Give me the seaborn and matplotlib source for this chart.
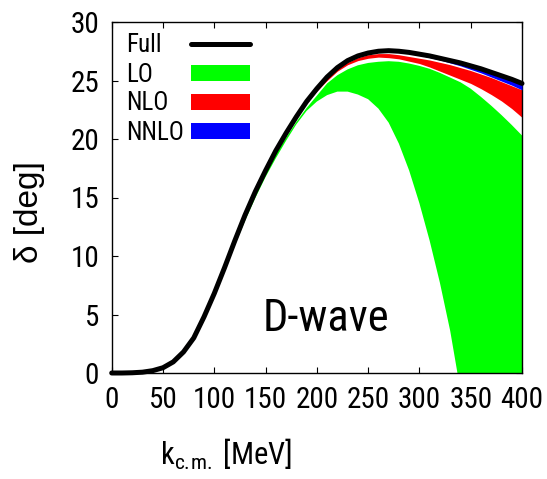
import matplotlib
matplotlib.use("Agg")
import matplotlib.pyplot as plt
import seaborn as sns
import pandas as pd
from matplotlib import font_manager as fm
from matplotlib.patches import Patch
from matplotlib.lines import Line2D

# ---- data ----
k = list(range(0, 401, 10))

full = [0, 0, 0.02, 0.07, 0.2, 0.45, 0.95, 1.8, 3.0, 4.8, 6.8, 9.0, 11.3, 13.5, 15.5,
        17.3, 19.0, 20.5, 21.9, 23.2, 24.3, 25.3, 26.1, 26.7, 27.1, 27.35, 27.5, 27.55,
        27.5, 27.4, 27.25, 27.1, 26.9, 26.7, 26.5, 26.25, 26.0, 25.7, 25.4, 25.1, 24.75]

lo_hi = [0, 0, 0.02, 0.06, 0.18, 0.42, 0.9, 1.74, 2.92, 4.7, 6.7, 8.9, 11.2, 13.4, 15.35,
         17.1, 18.7, 20.1, 21.45, 22.65, 23.7, 24.75, 25.45, 25.95, 26.3, 26.5, 26.6, 26.65,
         26.6, 26.45, 26.25, 26.0, 25.65, 25.25, 24.85, 24.3, 23.6, 22.85, 22.05, 21.2, 20.3]
lo_lo = [0, 0, 0.01, 0.05, 0.16, 0.38, 0.84, 1.65, 2.8, 4.55, 6.5, 8.65, 10.9, 13.0, 14.95,
         16.75, 18.35, 19.85, 21.25, 22.4, 23.2, 23.75, 24.05, 24.05, 23.8, 23.4, 22.6, 21.4,
         19.6, 17.3, 14.5, 11.3, 7.7, 3.6, -1.5, -7.0, -13.0, -19.5, -26.5, -34.0, -42.0]

nlo_hi = [0, 0, 0.02, 0.07, 0.2, 0.45, 0.95, 1.8, 3.0, 4.8, 6.8, 9.0, 11.3, 13.5, 15.5,
          17.3, 19.0, 20.5, 21.9, 23.2, 24.25, 25.2, 26.0, 26.55, 26.95, 27.2, 27.3, 27.3,
          27.2, 27.05, 26.9, 26.75, 26.55, 26.35, 26.1, 25.85, 25.55, 25.25, 24.9, 24.55, 24.2]
nlo_lo = [0, 0, 0.0, 0.03, 0.15, 0.38, 0.85, 1.68, 2.85, 4.65, 6.65, 8.85, 11.15, 13.35, 15.35,
          17.15, 18.85, 20.35, 21.75, 23.05, 24.1, 25.0, 25.8, 26.35, 26.7, 26.9, 27.0, 26.95,
          26.85, 26.65, 26.45, 26.15, 25.8, 25.45, 25.1, 24.75, 24.3, 23.8, 23.25, 22.6, 21.85]

nnlo_hi = [0, 0, 0.03, 0.09, 0.23, 0.5, 1.0, 1.85, 3.05, 4.85, 6.85, 9.05, 11.35, 13.55, 15.55,
           17.35, 19.05, 20.55, 21.95, 23.25, 24.35, 25.35, 26.15, 26.75, 27.15, 27.4, 27.55, 27.6,
           27.55, 27.45, 27.3, 27.15, 26.95, 26.75, 26.55, 26.3, 26.05, 25.75, 25.45, 25.15, 24.8]
nnlo_lo = [0, 0, 0, 0.0, 0.15, 0.38, 0.87, 1.72, 2.9, 4.7, 6.7, 8.9, 11.2, 13.4, 15.4,
           17.2, 18.9, 20.4, 21.8, 23.1, 24.2, 25.2, 26.0, 26.6, 27.0, 27.25, 27.4, 27.45,
           27.4, 27.3, 27.15, 26.95, 26.75, 26.5, 26.25, 25.95, 25.65, 25.3, 24.95, 24.6, 24.2]

legend_labels = ["Full", "LO", "NLO", "NNLO"]
x_ticks = [0, 50, 100, 150, 200, 250, 300, 350, 400]
y_ticks = [0, 5, 10, 15, 20, 25, 30]

# ---- style ----
sns.set_style("ticks")
names = {f.name for f in fm.fontManager.ttflist}
narrow = None
for pref in ["Nimbus Sans Narrow", "Liberation Sans Narrow", "Arial Narrow", "Roboto Condensed"]:
    if pref in names:
        narrow = pref
        break
base = narrow if narrow else "Liberation Sans"
plt.rcParams["font.family"] = [base, "DejaVu Sans"]
plt.rcParams["mathtext.fontset"] = "custom"
plt.rcParams["mathtext.rm"] = base
plt.rcParams["mathtext.it"] = base + ":italic"
for key in ["text.color", "axes.labelcolor", "xtick.color", "ytick.color", "axes.edgecolor"]:
    plt.rcParams[key] = "black"

if narrow:
    fs_tick, fs_leg, fs_dw, fs_xl = 21, 18, 32, 22
else:
    fs_tick, fs_leg, fs_dw, fs_xl = 18, 16.5, 28, 20

W, H, DPI = 547, 479, 100
fig = plt.figure(figsize=(W / DPI, H / DPI), dpi=DPI)
ax_left, ax_right, ax_top, ax_bot = 111.7, 522.0, 22.0, 373.0
ax = fig.add_axes([ax_left / W, 1 - ax_bot / H, (ax_right - ax_left) / W, (ax_bot - ax_top) / H])

ax.fill_between(k, lo_lo, lo_hi, color="#00ff00", lw=0, zorder=1)
ax.fill_between(k, nlo_lo, nlo_hi, color="#ff0000", lw=0, zorder=2)
ax.fill_between(k, nnlo_lo, nnlo_hi, color="#0000ff", lw=0, zorder=3)

df = pd.DataFrame({"k": k, "delta": full})
sns.lineplot(data=df, x="k", y="delta", ax=ax, color="black", lw=3.6,
             clip_on=False, zorder=5, legend=False)

ax.set_xlim(0, 400)
ax.set_ylim(0, 30)
ax.set_xticks(x_ticks)
ax.set_yticks(y_ticks)
ax.tick_params(direction="in", length=4, width=0.8, top=True, right=True,
               labelsize=fs_tick, pad=9, colors="black")
for s in ax.spines.values():
    s.set_linewidth(1.0)
    s.set_color("black")

ax.set_ylabel("δ [deg]", fontsize=24, family=["Liberation Sans", "DejaVu Sans"])
ax.yaxis.set_label_coords(-0.163, 0.459)
ax.set_xlabel(r"k$_{\mathregular{c.\!m.}}$ [MeV]", fontsize=fs_xl)
ax.xaxis.label.set_va("baseline")
ax.xaxis.set_label_coords(0.279, -0.262)

ax.text(209, 3.6, "D-wave", fontsize=fs_dw, ha="center", va="baseline", zorder=6)

handles = [Line2D([], [], color="black", lw=3.6),
           Patch(facecolor="#00ff00", lw=0),
           Patch(facecolor="#ff0000", lw=0),
           Patch(facecolor="#0000ff", lw=0)]
anchor = [0.035, 0.98]
leg = ax.legend(handles, legend_labels, loc="upper left", bbox_to_anchor=tuple(anchor),
                frameon=False, borderpad=0, borderaxespad=0, markerfirst=False,
                handlelength=2.36, handleheight=0.6, handletextpad=0.28,
                labelspacing=0.05, fontsize=fs_leg)

# left-align label texts, keep swatches aligned, set row pitch and position
fig.canvas.draw()
renderer = fig.canvas.get_renderer()
bbs = [t.get_window_extent(renderer) for t in leg.get_texts()]
widths = [b.width for b in bbs]
wmax = max(widths)
th = max(b.height for b in bbs)
pitch_px = 29.0
base_sep = 0.28 * fs_leg
for col in leg._legend_handle_box.get_children():
    col.sep = max(pitch_px - th, 0) * 72.0 / DPI
    for row, w in zip(col.get_children(), widths):
        row.sep = base_sep + (wmax - w) * 72.0 / DPI

fig.canvas.draw()
b0 = leg.get_texts()[0].get_window_extent(renderer)
top_from_top = H - b0.y1
target_top, target_left = 33.5, 126.0
anchor[1] += (top_from_top - target_top) / (ax_bot - ax_top)
anchor[0] += (target_left - b0.x0) / (ax_right - ax_left)
leg.set_bbox_to_anchor(tuple(anchor), transform=ax.transAxes)

fig.savefig("out.png", dpi=DPI)
